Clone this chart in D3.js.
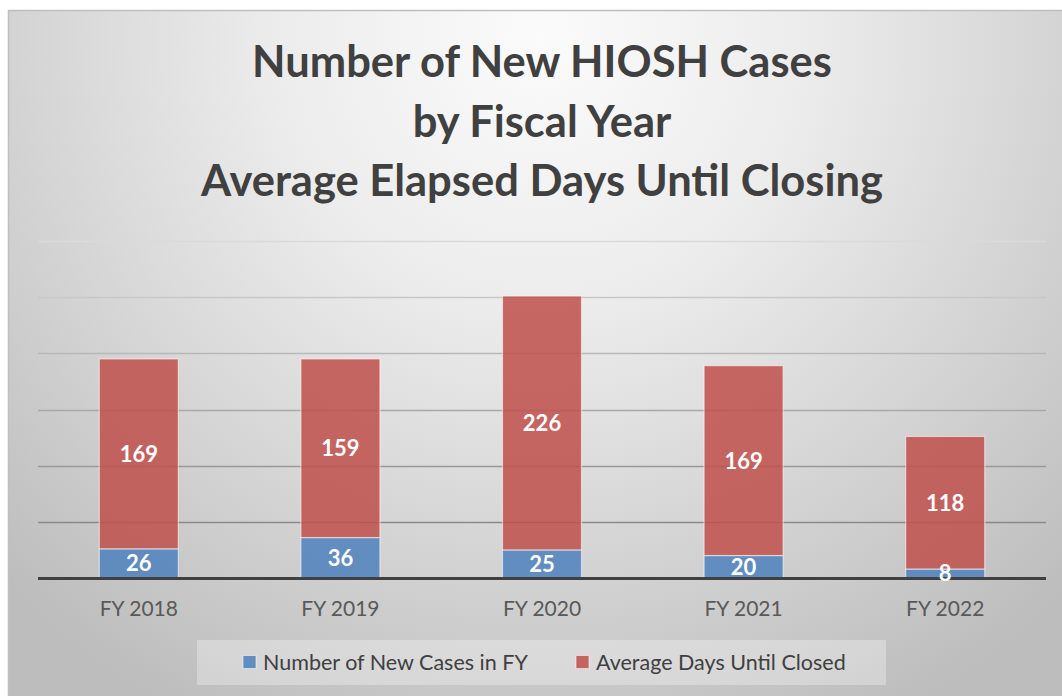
<!DOCTYPE html>
<html>
<head>
<meta charset="utf-8">
<script src="https://cdn.jsdelivr.net/npm/d3@7"></script>
<style>
html,body{margin:0;padding:0;background:#ffffff;}
svg{display:block;}
</style>
</head>
<body>
<svg id="chart" width="1062" height="696"></svg>
<script>
const categories = ["FY 2018", "FY 2019", "FY 2020", "FY 2021", "FY 2022"];
const newCases = [26, 36, 25, 20, 8];
const avgDays = [169, 159, 226, 169, 118];
const seriesNames = ["Number of New Cases in FY", "Average Days Until Closed"];
const seriesColors = ["#4f81bd", "#c0504d"];
const yTicks = [0, 50, 100, 150, 200, 250, 300];
const titleLines = ["Number of New HIOSH Cases", "by Fiscal Year", "Average Elapsed Days Until Closing"];

const svg = d3.select("#chart");
const defs = svg.append("defs");

const bg = defs.append("radialGradient").attr("id", "bg")
  .attr("gradientUnits", "userSpaceOnUse")
  .attr("cx", 540).attr("cy", 40).attr("r", 760);
bg.append("stop").attr("offset", "0").attr("stop-color", "#fbfbfb");
bg.append("stop").attr("offset", "0.35").attr("stop-color", "#ececec");
bg.append("stop").attr("offset", "1").attr("stop-color", "#bdbdbd");

const gg = defs.append("linearGradient").attr("id", "gridg")
  .attr("gradientUnits", "userSpaceOnUse")
  .attr("x1", 0).attr("y1", 241).attr("x2", 0).attr("y2", 521);
gg.append("stop").attr("offset", "0").attr("stop-color", "#dadada");
gg.append("stop").attr("offset", "0.25").attr("stop-color", "#c4c4c4");
gg.append("stop").attr("offset", "1").attr("stop-color", "#8a8a8a");

svg.append("rect").attr("x", 8.5).attr("y", 10.5).attr("width", 1062).attr("height", 700)
  .attr("fill", "url(#bg)").attr("stroke", "#bfbfbf").attr("stroke-width", 1.5);

const font = "Lato, 'Open Sans', sans-serif";

svg.append("g").selectAll("text").data(titleLines).join("text")
  .attr("x", 542).attr("y", (d, i) => 77 + i * 59.5)
  .attr("text-anchor", "middle")
  .attr("font-family", font).attr("font-weight", 700).attr("font-size", 43.5)
  .attr("fill", "#404040").text(d => d);

const x = d3.scaleBand().domain(categories).range([38, 1046])
  .paddingInner(0.608).paddingOuter(0.304);
const y = d3.scaleLinear().domain([0, 300]).range([578, 241]);

svg.append("g").selectAll("line").data(yTicks.filter(t => t > 0)).join("line")
  .attr("x1", 38).attr("x2", 1046)
  .attr("y1", d => Math.round(y(d)) + 0.5).attr("y2", d => Math.round(y(d)) + 0.5)
  .attr("stroke", "url(#gridg)").attr("stroke-width", 1.3);

const stackData = categories.map((c, i) => ({cat: c, a: newCases[i], b: avgDays[i]}));
const stack = d3.stack().keys(["a", "b"])(stackData);

const layers = svg.append("g").selectAll("g").data(stack).join("g")
  .attr("fill", (d, i) => seriesColors[i]);
layers.selectAll("rect").data(d => d).join("rect")
  .attr("x", d => x(d.data.cat))
  .attr("width", x.bandwidth())
  .attr("y", d => y(d[1]))
  .attr("height", d => y(d[0]) - y(d[1]))
  .attr("fill-opacity", 0.86)
  .attr("stroke", "rgba(255,255,255,0.55)").attr("stroke-width", 1.2);

svg.append("line").attr("x1", 38).attr("x2", 1046).attr("y1", y(0) + 0.5).attr("y2", y(0) + 0.5)
  .attr("stroke", "#404040").attr("stroke-width", 3);

const labels = svg.append("g").selectAll("g").data(stack).join("g");
labels.selectAll("text").data(d => d.map(v => ({v, key: d.key}))).join("text")
  .attr("x", d => x(d.v.data.cat) + x.bandwidth() / 2)
  .attr("y", d => (y(d.v[0]) + y(d.v[1])) / 2)
  .attr("dy", "0.36em")
  .attr("text-anchor", "middle")
  .attr("font-family", font).attr("font-weight", 700).attr("font-size", 22)
  .attr("fill", "#ffffff")
  .text(d => d.v.data[d.key]);

const xAxis = d3.axisBottom(x).tickSize(0).tickPadding(0);
const gx = svg.append("g").attr("transform", `translate(0,${y(0)})`).call(xAxis);
gx.select(".domain").remove();
gx.selectAll("text").attr("y", 30).attr("dy", "0.36em")
  .attr("font-family", font).attr("font-size", 21).attr("fill", "#595959");

svg.append("rect").attr("x", 197).attr("y", 640).attr("width", 689).attr("height", 45)
  .attr("fill", "#ffffff").attr("fill-opacity", 0.3);
const legendX = [243, 576];
const lg = svg.append("g").selectAll("g").data(seriesNames).join("g")
  .attr("transform", (d, i) => `translate(${legendX[i]},662)`);
lg.append("rect").attr("x", 0).attr("y", -6.5).attr("width", 13).attr("height", 13)
  .attr("fill", (d, i) => seriesColors[i]).attr("fill-opacity", 0.86)
  .attr("stroke", "rgba(255,255,255,0.55)");
lg.append("text").attr("x", 20).attr("y", 0).attr("dy", "0.36em")
  .attr("font-family", font).attr("font-size", 21.5).attr("fill", "#404040")
  .text(d => d);
</script>
</body>
</html>
